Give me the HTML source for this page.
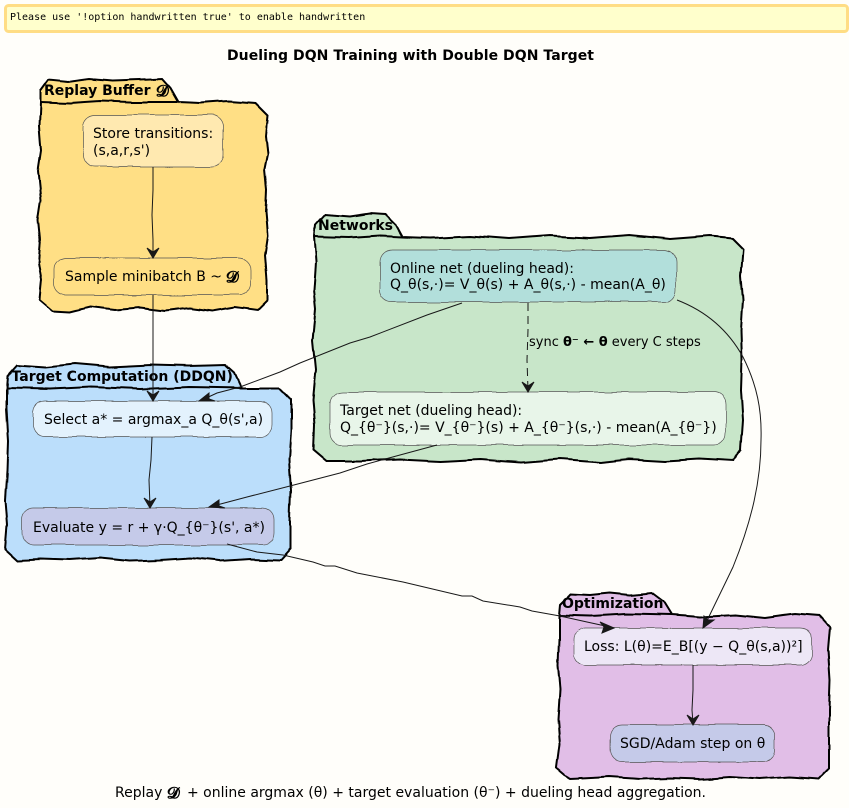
<!DOCTYPE html>
<html><head><meta charset="utf-8"><style>
html,body{margin:0;padding:0;background:#FFFEFA}
svg{display:block}
text{font-family:"DejaVu Sans",sans-serif;font-size:14px;fill:#000}
.t{font-weight:bold}
.d{font-size:16px;font-weight:bold}
.p{stroke:#000;stroke-width:2;stroke-linejoin:miter}
.n{stroke:#555;stroke-width:.7}
.e{fill:none;stroke:#181818;stroke-width:1}
.a{fill:#181818;stroke:#181818;stroke-width:1}
</style></head><body>
<svg width="849" height="808" viewBox="0 0 849 808" xmlns="http://www.w3.org/2000/svg">
<defs>
<filter id="w" x="-5%" y="-10%" width="110%" height="120%"><feTurbulence type="fractalNoise" baseFrequency="0.045" numOctaves="1" seed="4"/><feDisplacementMap in="SourceGraphic" scale="4" xChannelSelector="R" yChannelSelector="G"/></filter>
<filter id="v" x="-5%" y="-5%" width="110%" height="110%"><feTurbulence type="fractalNoise" baseFrequency="0.04" numOctaves="1" seed="9"/><feDisplacementMap in="SourceGraphic" scale="5" xChannelSelector="R" yChannelSelector="G"/></filter>
</defs>
<rect width="849" height="808" fill="#FFFEFA"/>
<rect x="5.5" y="5.5" width="842" height="26" rx="3" fill="#FFFFCC" stroke="#FFDD85" stroke-width="3"/>
<text x="10" y="20" style="font-family:'DejaVu Sans Mono',monospace;font-size:10px">Please use '!option handwritten true' to enable handwritten</text>
<text class="t" x="227" y="60" textLength="367">Dueling DQN Training with Double DQN Target</text>

<g filter="url(#v)">
<!-- Replay -->
<path class="p" fill="#FFDF85" d="M40 102L40 91L48 80L68 82L90 79L112 81L140 80L162 79L170 88L178 102L200 103L228 101L256 103L268 115L266 135L268 155L265 170L267 190L266 212L268 235L265 255L267 280L267 300L257 310L235 307L212 311L190 308L165 311L140 308L115 310L90 307L70 312L52 311L39 300L41 280L38 262L40 240L38 220L41 200L38 170L41 150L39 125Z"/>
<path class="p" fill="none" d="M40 102L70 103L100 101L130 102L178 102"/>
<!-- Networks -->
<path class="p" fill="#C8E6C9" d="M314 237L315 225L325 214L350 216L370 213L385 214L395 224L402 237L430 238L470 236L510 239L550 236L590 238L630 235L670 239L710 236L732 238L743 249L741 275L743 300L741 330L742 360L741 390L743 420L741 450L733 461L700 459L665 461L630 459L600 462L560 459L520 462L480 459L440 461L400 459L360 461L327 461L314 450L315 425L313 400L316 370L313 340L316 310L314 290L316 262Z"/>
<path class="p" fill="none" d="M314 237L350 238L380 236L402 237"/>
<!-- Target computation -->
<path class="p" fill="#BBDEFB" d="M6 388L7 376L17 365L45 367L75 364L110 367L150 365L190 366L225 365L234 373L241 388L262 388L280 388L291 399L291 430L289 460L291 490L290 520L290 549L280 560L250 559L220 561L190 558L160 560L130 561L100 558L70 560L40 559L17 560L5 549L7 525L5 500L7 470L8 440L6 410Z"/>
<path class="p" fill="none" d="M6 388L50 389L90 387L140 389L190 387L241 388"/>
<!-- Optimization -->
<path class="p" fill="#E1BEE7" d="M559 615L560 604L570 594L590 595L610 593L630 595L652 593L664 602L672 615L700 617L735 615L765 618L795 614L820 616L830 627L828 650L830 680L829 710L829 740L829 768L818 779L790 777L760 779L730 777L700 779L670 778L640 779L610 777L570 779L557 768L560 745L558 720L560 690L558 665L559 640Z"/>
<path class="p" fill="none" d="M559 615L590 616L625 614L672 615"/>
</g>

<text class="t" x="44" y="95">Replay Buffer</text><text class="d" x="156" y="96">𝓓</text>
<text class="t" x="318" y="230">Networks</text>
<text class="t" x="11.5" y="381">Target Computation (DDQN)</text>
<text class="t" x="562" y="608">Optimization</text>

<g filter="url(#w)">
<rect class="n" x="83" y="115" width="140" height="52" rx="12" fill="#FFE9B0"/>
<rect class="n" x="54" y="258" width="197" height="37" rx="12" fill="#FFDF85"/>
<rect class="n" x="380" y="250" width="296" height="52" rx="12" fill="#B2DFDB"/>
<rect class="n" x="330" y="392" width="396" height="53" rx="12" fill="#E8F5E9"/>
<rect class="n" x="33" y="401" width="239" height="36" rx="12" fill="#E3F2FD"/>
<rect class="n" x="22" y="508" width="252" height="37" rx="12" fill="#C5CAE9"/>
<rect class="n" x="574" y="628" width="238" height="37" rx="12" fill="#EDE7F6"/>
<rect class="n" x="610" y="725" width="165" height="37" rx="12" fill="#C5CAE9"/>
</g>

<text x="93" y="138">Store transitions:</text>
<text x="93" y="155">(s,a,r,s')</text>
<text x="65" y="281">Sample minibatch B ~</text><text class="d" x="226" y="282">𝓓</text>
<text x="390" y="273">Online net (dueling head):</text>
<text x="390" y="289">Q_θ(s,·)= V_θ(s) + A_θ(s,·) - mean(A_θ)</text>
<text x="340" y="415">Target net (dueling head):</text>
<text x="340" y="432">Q_{θ⁻}(s,·)= V_{θ⁻}(s) + A_{θ⁻}(s,·) - mean(A_{θ⁻})</text>
<text x="44" y="424">Select a* = argmax_a Q_θ(s',a)</text>
<text x="33" y="532">Evaluate y = r + γ·Q_{θ⁻}(s', a*)</text>
<text x="584" y="651">Loss: L(θ)=E_B[(y − Q_θ(s,a))²]</text>
<text x="620" y="748">SGD/Adam step on θ</text>
<text x="529" y="346" style="font-size:13px">sync <tspan font-weight="bold">θ⁻ ← θ</tspan> every C steps</text>
<text x="115" y="797">Replay</text><text class="d" x="167" y="798">𝓓</text><text x="187" y="797" textLength="519">+ online argmax (θ) + target evaluation (θ⁻) + dueling head aggregation.</text>

<path class="e" d="M153 167L153 190L152 215L153 240L153 256"/>
<path class="a" d="M153 258L147 248L153 252L159 248Z"/>
<path class="e" d="M153 295L153 320L153 350L153 375L153 399"/>
<path class="a" d="M153 401L147 391L153 395L159 391Z"/>
<path class="e" d="M152 437L151 460L149 480L150 506"/>
<path class="a" d="M150 508L144 498L150 502L156 498Z"/>
<path class="e" d="M462 303L427 315L370 337L350 343L300 363L280 372L240 387L217 393L202 400"/>
<path class="a" d="M199 401L209 393L209 399L215 401Z"/>
<path class="e" d="M437 445L400 455L367 464L340 473L290 486L247 497L213 506"/>
<path class="a" d="M209 507L219 500L219 506L225 508Z"/>
<path class="e" stroke-dasharray="8 5" d="M528 303L528 330L527 360L528 390"/>
<path class="a" d="M528 392L522 382L528 386L534 382Z"/>
<path class="e" d="M677 300C703 310 727 328 743 357C757 385 762 410 761 440C761 480 752 520 733 567C722 590 713 608 705 625"/>
<path class="a" d="M703 628L704 616L708 620L714 620Z"/>
<path class="e" d="M227 544L257 552L283 555L313 562L325 566L335 566L357 573L403 582L462 596L472 596L483 601L520 607L532 611L560 616L587 622L610 627"/>
<path class="a" d="M614 628L602 633L604 627L600 622Z"/>
<path class="e" d="M693 665L693 690L692 710L693 723"/>
<path class="a" d="M693 725L687 715L693 719L699 715Z"/>
</svg>
</body></html>
